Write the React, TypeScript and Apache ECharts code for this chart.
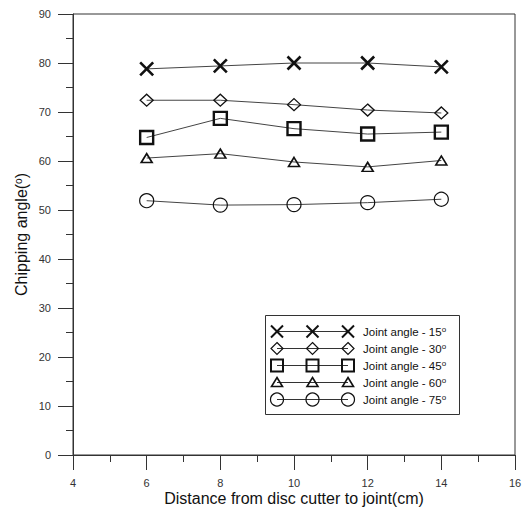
import React, { useEffect, useRef } from "react";
import * as echarts from "echarts";

// Distance from disc cutter to joint (cm)
const distances = [6, 8, 10, 12, 14];
// Joint angles (degrees), one series each
const jointAngles = [15, 30, 45, 60, 75];
// Chipping angle (degrees) per joint angle
const chip15 = [78.8, 79.4, 80.0, 80.0, 79.2];
const chip30 = [72.4, 72.4, 71.5, 70.4, 69.8];
const chip45 = [64.8, 68.7, 66.6, 65.5, 65.9];
const chip60 = [60.6, 61.5, 59.8, 58.8, 60.1];
const chip75 = [51.9, 51.0, 51.1, 51.5, 52.2];
const chipSeries = [chip15, chip30, chip45, chip60, chip75];

const FONT = "'Liberation Sans', Arial, sans-serif";
const INK = "#111";

type MarkerDef = {
  symbol: string;
  size: number | number[];
  border: number;
};

const markers: MarkerDef[] = [
  { symbol: "path://M0,0L10,10M10,0L0,10", size: 13, border: 2.6 },
  { symbol: "diamond", size: [13, 12], border: 1.3 },
  { symbol: "rect", size: 13, border: 2.4 },
  { symbol: "triangle", size: [11, 9], border: 1.6 },
  { symbol: "circle", size: 14, border: 1.2 },
];

// Small glyph for the hand-drawn legend box
function legendGlyph(kind: number, cx: number, cy: number): any {
  const stroke = { stroke: INK, fill: "none" };
  switch (kind) {
    case 0: {
      const h = 6;
      return {
        type: "group",
        children: [
          { type: "line", shape: { x1: cx - h, y1: cy - h, x2: cx + h, y2: cy + h }, style: { ...stroke, lineWidth: 2 } },
          { type: "line", shape: { x1: cx + h, y1: cy - h, x2: cx - h, y2: cy + h }, style: { ...stroke, lineWidth: 2 } },
        ],
      };
    }
    case 1:
      return {
        type: "polygon",
        shape: { points: [[cx, cy - 6], [cx + 6, cy], [cx, cy + 6], [cx - 6, cy]] },
        style: { ...stroke, lineWidth: 1.2 },
      };
    case 2:
      return {
        type: "rect",
        shape: { x: cx - 6, y: cy - 6, width: 12, height: 12 },
        style: { ...stroke, lineWidth: 2 },
      };
    case 3:
      return {
        type: "polygon",
        shape: { points: [[cx, cy - 5], [cx + 5.5, cy + 4], [cx - 5.5, cy + 4]] },
        style: { ...stroke, lineWidth: 1.6 },
      };
    default:
      return {
        type: "circle",
        shape: { cx, cy, r: 6.5 },
        style: { ...stroke, lineWidth: 1.2 },
      };
  }
}

function buildLegend(): any[] {
  const box = { x: 265, y: 315, w: 194, h: 99 };
  const rowY0 = 331.5;
  const rowStep = 17;
  const x0 = 277;
  const x1 = 312.5;
  const x2 = 348;
  const items: any[] = [
    {
      type: "rect",
      shape: { x: box.x + 0.5, y: box.y + 0.5, width: box.w, height: box.h },
      style: { fill: "#fff", stroke: "#333", lineWidth: 1 },
    },
  ];
  jointAngles.forEach((ang, i) => {
    const cy = rowY0 + i * rowStep;
    items.push({
      type: "line",
      shape: { x1: x0, y1: cy, x2: x2, y2: cy },
      style: { stroke: "#333", lineWidth: 1 },
    });
    [x0, x1, x2].forEach((cx) => items.push(legendGlyph(i, cx, cy)));
    items.push({
      type: "text",
      x: 363,
      y: cy,
      style: {
        text: `Joint angle - ${ang}{sup|o}`,
        font: `11.5px ${FONT}`,
        fill: INK,
        verticalAlign: "middle",
        rich: {
          sup: { fontSize: 8, fontFamily: FONT, verticalAlign: "top", fill: INK, padding: [0, 0, 4, 0] },
        },
      },
    });
  });
  return items;
}

export default function App() {
  const ref = useRef<HTMLDivElement>(null);

  useEffect(() => {
    if (!ref.current) return;
    const chart = echarts.init(ref.current, undefined, { renderer: "svg" });

    const series = chipSeries.map((vals, i) => ({
      name: `Joint angle - ${jointAngles[i]}`,
      type: "line",
      data: distances.map((d, k) => [d, vals[k]]),
      symbol: markers[i].symbol,
      symbolSize: markers[i].size,
      showSymbol: true,
      lineStyle: { color: "#444", width: 1 },
      itemStyle: {
        color: "rgba(0,0,0,0)",
        borderColor: INK,
        borderWidth: markers[i].border,
      },
      emphasis: { disabled: true },
      z: 3,
    }));

    chart.setOption({
      animation: false,
      backgroundColor: "#fff",
      grid: {
        left: 73,
        top: 14,
        right: 11,
        bottom: 55,
        containLabel: false,
        outerBoundsMode: "none",
        show: true,
        borderColor: "#333",
        borderWidth: 1,
        backgroundColor: "transparent",
      },
      xAxis: {
        type: "value",
        min: 4,
        max: 16,
        interval: 2,
        name: "Distance from disc cutter to joint(cm)",
        nameLocation: "middle",
        nameGap: 35,
        nameMoveOverlap: false,
        nameTextStyle: { fontFamily: FONT, fontSize: 16, color: INK },
        axisLine: { show: true, onZero: false, lineStyle: { color: "#333", width: 1 } },
        axisTick: { show: true, inside: false, length: 15, lineStyle: { color: "#333" } },
        minorTick: { show: true, splitNumber: 2, length: 7, lineStyle: { color: "#333" } },
        splitLine: { show: false },
        axisLabel: { margin: 22, fontFamily: FONT, fontSize: 11, color: "#333" },
      },
      yAxis: {
        type: "value",
        min: 0,
        max: 90,
        interval: 10,
        name: "Chipping angle({sup|o})",
        nameLocation: "middle",
        nameGap: 44,
        nameRotate: 90,
        nameMoveOverlap: false,
        nameTextStyle: {
          fontFamily: FONT,
          fontSize: 16,
          color: INK,
          rich: {
            sup: { fontFamily: FONT, fontSize: 10, color: INK, verticalAlign: "top", padding: [0, 0, 5, 0] },
          },
        },
        axisLine: { show: true, onZero: false, lineStyle: { color: "#333", width: 1 } },
        axisTick: { show: true, inside: false, length: 15, lineStyle: { color: "#333" } },
        minorTick: { show: true, splitNumber: 2, length: 7, lineStyle: { color: "#333" } },
        splitLine: { show: false },
        axisLabel: { margin: 22, fontFamily: FONT, fontSize: 11, color: "#333" },
      },
      series,
      graphic: buildLegend(),
    });

    return () => chart.dispose();
  }, []);

  return (
    <div
      ref={ref}
      style={{ width: 526, height: 510, position: "absolute", left: 0, top: 0 }}
    />
  );
}
